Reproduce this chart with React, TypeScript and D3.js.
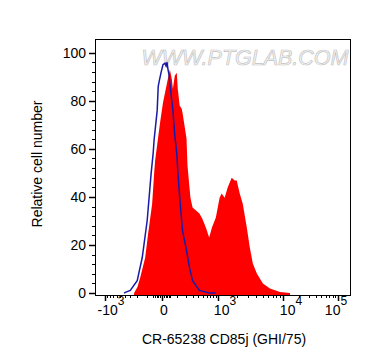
import React from "react";
import * as d3 from "d3";

// fluorescence values (x) and relative cell number (y)
const stainedX = [-245, -200, -167, -116, -90, -59, -45, -39, -10, 5, 28, 46, 60, 68, 83, 100, 109, 127, 148, 157, 205, 218, 260, 293, 359, 421, 484, 532, 584, 673, 765, 910, 1063, 1148, 1285, 1436, 1663, 1855, 1994, 2223, 2476, 2855, 3176, 3529, 4060, 5009, 6388, 9020, 13440];
const stainedY = [0, 2.5, 6.5, 14.8, 24.8, 37.2, 50, 55, 70.9, 79.2, 87.5, 93, 89, 85, 90.4, 91.7, 85, 78, 76.7, 75, 64.3, 53, 39.7, 35.6, 34.3, 33.1, 31, 29, 27, 23.1, 27.3, 31.4, 39.7, 41.4, 39.7, 43.9, 48, 46.8, 46.8, 41.4, 37.2, 27.3, 19, 12.3, 8.1, 4, 1.9, 0.5, 0];

const isotypeX = [-420, -393, -303, -203, -145, -98, -66, -52, -45, -26, -20, -15, -4, 5, 16, 22, 28, 34, 40, 53, 68, 83, 100, 109, 127, 157, 205, 245, 293, 421, 673, 900];
const isotypeY = [0, 0.3, 1.1, 5.2, 14.8, 30.2, 50, 58, 64, 76, 86, 88, 92, 95, 95.6, 94.5, 96, 93, 91, 83.5, 76, 65.5, 58, 51, 40, 26, 17.7, 10.8, 5.2, 1.1, 0, 0];

const xMajor = [-1000, 0, 1000, 10000, 100000];
const xMajorBase = ["-10", "0", "10", "10", "10"];
const xMajorExp = ["3", "", "3", "4", "5"];
const xLabelShift = [6, 2, 7, 8, -2];
const xMinor = [
  -900, -800, -700, -600, -500, -400, -300, -200, -100, -50, -40, -30, -20, -10,
  10, 20, 30, 40, 50, 100, 200, 300, 400, 500, 600, 700, 800, 900,
  2000, 3000, 4000, 5000, 6000, 7000, 8000, 9000,
  20000, 30000, 40000, 50000, 60000, 70000, 80000, 90000,
];
const yMajor = [0, 20, 40, 60, 80, 100];
const yMinor = d3.range(0, 101, 4).filter((v) => v % 20 !== 0);

const W = 372;
const H = 364;
const left = 95;
const right = 351;
const top = 39;
const bottom = 295;
const font = "Arial, 'Liberation Sans', sans-serif";

const tf = (v: number) => Math.sign(v) * Math.log1p(Math.abs(v) / 130);
const xs = d3.scaleLinear().domain(xMajor.map(tf)).range([105, 162, 218, 283, 338]);
const x = (v: number) => xs(tf(v));
const y = d3.scaleLinear().domain([-0.8, 105.7]).range([bottom, top]);

export default function App() {
  const stained = stainedX.map((v, i) => [v, stainedY[i]] as [number, number]);
  const isotype = isotypeX.map((v, i) => [v, isotypeY[i]] as [number, number]);

  const area = d3
    .area<[number, number]>()
    .x((d) => x(d[0]))
    .y0(bottom)
    .y1((d) => y(d[1]));
  const line = d3
    .line<[number, number]>()
    .x((d) => x(d[0]))
    .y((d) => y(d[1]));

  return (
    <svg width={W} height={H} style={{ position: "absolute", left: 0, top: 0, background: "#fff" }}>
      <text
        x={(left + right) / 2 + 22}
        y={65}
        textAnchor="middle"
        fontFamily={font}
        fontSize={21.5}
        fontStyle="italic"
        fill="#f6f6f6"
        stroke="#c4c4c4"
        strokeWidth={0.7}
      >
        WWW.PTGLAB.COM
      </text>

      <path d={area(stained) || ""} fill="#ff0000" />
      <path d={line(isotype) || ""} fill="none" stroke="#1a1aa8" strokeWidth={1.5} />

      <rect x={left + 0.5} y={top + 0.5} width={right - left - 1} height={bottom - top} fill="none" stroke="#000" strokeWidth={1} />

      {yMajor.map((v) => (
        <g key={"ym" + v}>
          <line x1={left - 6} x2={left} y1={Math.round(y(v)) + 0.5} y2={Math.round(y(v)) + 0.5} stroke="#000" strokeWidth={1.5} />
          <text x={left - 9} y={y(v) + 5} textAnchor="end" fontFamily={font} fontSize={14} fill="#000">
            {v}
          </text>
        </g>
      ))}
      {yMinor.map((v) => (
        <line key={"yn" + v} x1={left - 3} x2={left} y1={Math.round(y(v)) + 0.5} y2={Math.round(y(v)) + 0.5} stroke="#000" strokeWidth={1} />
      ))}

      {xMajor.map((v, i) => (
        <g key={"xm" + v}>
          <line x1={Math.round(x(v)) + 0.5} x2={Math.round(x(v)) + 0.5} y1={bottom} y2={bottom + 6} stroke="#000" strokeWidth={1.5} />
          <text x={x(v) + xLabelShift[i]} y={315} textAnchor="middle" fontFamily={font} fontSize={14} fill="#000">
            {xMajorBase[i]}
            {xMajorExp[i] && (
              <tspan dy={-10} fontSize={12}>
                {xMajorExp[i]}
              </tspan>
            )}
          </text>
        </g>
      ))}
      {xMinor.map((v) => (
        <line key={"xn" + v} x1={Math.round(x(v)) + 0.5} x2={Math.round(x(v)) + 0.5} y1={bottom} y2={bottom + 3} stroke="#000" strokeWidth={1} />
      ))}

      <text x={(left + right) / 2 + 1} y={344} textAnchor="middle" fontFamily={font} fontSize={14} fill="#000">
        CR-65238 CD85j (GHI/75)
      </text>
      <text transform="translate(42,164) rotate(-90)" textAnchor="middle" fontFamily={font} fontSize={14} fill="#000">
        Relative cell number
      </text>
    </svg>
  );
}
